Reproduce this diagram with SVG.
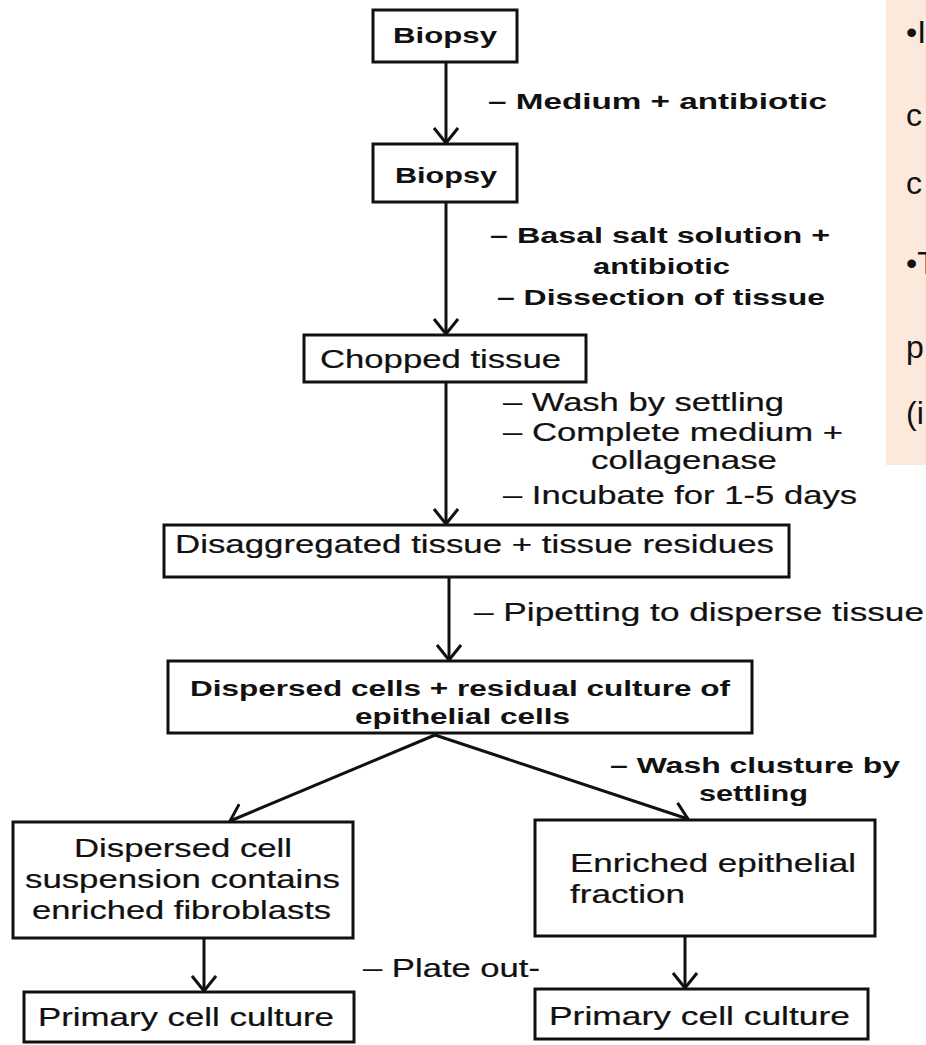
<svg xmlns="http://www.w3.org/2000/svg" width="926" height="1045" viewBox="0 0 926 1045">
<style>
.box{fill:#fff;stroke:#111;stroke-width:3}
.b{font-family:"Liberation Sans",Arial,sans-serif;font-weight:bold;font-size:22px;fill:#111}
.r{font-family:"Liberation Sans",Arial,sans-serif;font-size:25px;fill:#111;stroke:#111;stroke-width:0.2}
.o{font-family:"Liberation Sans",Arial,sans-serif;font-size:32px;fill:#111}
.ln{stroke:#111;stroke-width:3;fill:none}
</style>
<defs>
<marker id="ah" viewBox="0 0 18 26" refX="16" refY="13" markerWidth="18" markerHeight="26" markerUnits="userSpaceOnUse" orient="auto">
<path d="M1,1 L16,13 L1,25" fill="none" stroke="#111" stroke-width="3"/>
</marker>
</defs>
<rect width="926" height="1045" fill="#fff"/>
<g id="note">
<rect x="886" y="0" width="40" height="465" fill="#fde9dc"/>
<text class="o" x="906" y="43">•I</text>
<text class="o" x="906" y="126">c</text>
<text class="o" x="906" y="194">c</text>
<text class="o" x="906" y="274">•T</text>
<text class="o" x="906" y="358">p</text>
<text class="o" x="906" y="424">(i</text>
</g>
<g id="connectors">
<line class="ln" x1="446" y1="62" x2="446" y2="143" marker-end="url(#ah)"/>
<line class="ln" x1="446" y1="202" x2="446" y2="334" marker-end="url(#ah)"/>
<line class="ln" x1="446" y1="382" x2="446" y2="524" marker-end="url(#ah)"/>
<line class="ln" x1="449" y1="577" x2="449" y2="660" marker-end="url(#ah)"/>
<line class="ln" x1="435" y1="735" x2="230" y2="821" marker-end="url(#ah)"/>
<line class="ln" x1="435" y1="735" x2="688" y2="819" marker-end="url(#ah)"/>
<line class="ln" x1="204" y1="938" x2="204" y2="991" marker-end="url(#ah)"/>
<line class="ln" x1="685" y1="936" x2="685" y2="988" marker-end="url(#ah)"/>
<text class="b" x="488" y="109" textLength="339" lengthAdjust="spacingAndGlyphs">– Medium + antibiotic</text>
<text class="b" x="490" y="243" textLength="340" lengthAdjust="spacingAndGlyphs">– Basal salt solution +</text>
<text class="b" x="593" y="274" textLength="137" lengthAdjust="spacingAndGlyphs">antibiotic</text>
<text class="b" x="497" y="305" textLength="328" lengthAdjust="spacingAndGlyphs">– Dissection of tissue</text>
<text class="r" x="503" y="411" textLength="281" lengthAdjust="spacingAndGlyphs">– Wash by settling</text>
<text class="r" x="503" y="441" textLength="340" lengthAdjust="spacingAndGlyphs">– Complete medium +</text>
<text class="r" x="591" y="469" textLength="186" lengthAdjust="spacingAndGlyphs">collagenase</text>
<text class="r" x="503" y="504" textLength="354" lengthAdjust="spacingAndGlyphs">– Incubate for 1-5 days</text>
<text class="r" x="474" y="621" textLength="450" lengthAdjust="spacingAndGlyphs">– Pipetting to disperse tissue</text>
<text class="b" x="610" y="773" textLength="290" lengthAdjust="spacingAndGlyphs">– Wash clusture by</text>
<text class="b" x="699" y="801" textLength="109" lengthAdjust="spacingAndGlyphs">settling</text>
<text class="r" x="363" y="977" font-size="24" textLength="177" lengthAdjust="spacingAndGlyphs">– Plate out-</text>
</g>
<g id="biopsy1">
<rect class="box" x="373" y="10" width="144" height="52"/>
<text class="b" x="393" y="43" font-size="23" textLength="104" lengthAdjust="spacingAndGlyphs">Biopsy</text>
</g>
<g id="biopsy2">
<rect class="box" x="373" y="144" width="144" height="58"/>
<text class="b" x="395" y="183" font-size="23" textLength="102" lengthAdjust="spacingAndGlyphs">Biopsy</text>
</g>
<g id="chopped">
<rect class="box" x="304" y="335" width="282" height="47"/>
<text class="r" x="320" y="368" textLength="241" lengthAdjust="spacingAndGlyphs">Chopped tissue</text>
</g>
<g id="disaggregated">
<rect class="box" x="164" y="525" width="625" height="52"/>
<text class="r" x="175" y="553" font-size="26" textLength="599" lengthAdjust="spacingAndGlyphs">Disaggregated tissue + tissue residues</text>
</g>
<g id="dispersed">
<rect class="box" x="168" y="661" width="584" height="72"/>
<text class="b" x="190" y="696" textLength="540" lengthAdjust="spacingAndGlyphs">Dispersed cells + residual culture of</text>
<text class="b" x="355" y="724" textLength="215" lengthAdjust="spacingAndGlyphs">epithelial cells</text>
</g>
<g id="fibroblasts">
<rect class="box" x="13" y="822" width="340" height="116"/>
<text class="r" x="74" y="857" font-size="24" textLength="218" lengthAdjust="spacingAndGlyphs">Dispersed cell</text>
<text class="r" x="25" y="888" font-size="24" textLength="315" lengthAdjust="spacingAndGlyphs">suspension contains</text>
<text class="r" x="32" y="919" font-size="24" textLength="299" lengthAdjust="spacingAndGlyphs">enriched fibroblasts</text>
</g>
<g id="primary1">
<rect class="box" x="24" y="992" width="330" height="50"/>
<text class="r" x="38" y="1026" font-size="24" textLength="296" lengthAdjust="spacingAndGlyphs">Primary cell culture</text>
</g>
<g id="epithelial">
<rect class="box" x="535" y="820" width="340" height="116"/>
<text class="r" x="570" y="872" font-size="24" textLength="286" lengthAdjust="spacingAndGlyphs">Enriched epithelial</text>
<text class="r" x="570" y="903" font-size="24" textLength="115" lengthAdjust="spacingAndGlyphs">fraction</text>
</g>
<g id="primary2">
<rect class="box" x="535" y="989" width="333" height="50"/>
<text class="r" x="549" y="1025" font-size="24" textLength="301" lengthAdjust="spacingAndGlyphs">Primary cell culture</text>
</g>
</svg>
